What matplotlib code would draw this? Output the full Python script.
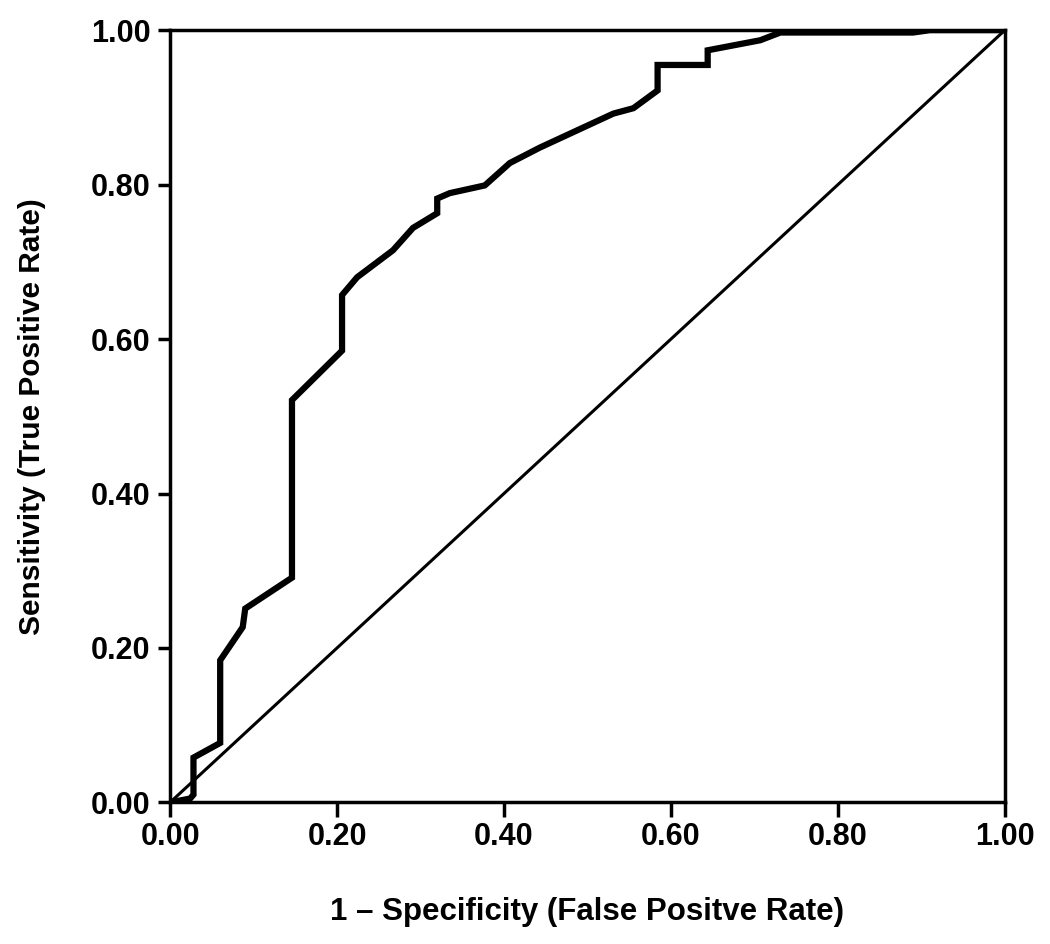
import matplotlib
matplotlib.use("Agg")
import matplotlib.pyplot as plt

# ROC curve points
fpr = [0.0, 0.024, 0.028, 0.028, 0.060, 0.060, 0.087, 0.090, 0.146, 0.146,
       0.206, 0.206, 0.224, 0.267, 0.291, 0.320, 0.320, 0.335, 0.377, 0.407,
       0.443, 0.531, 0.555, 0.584, 0.584, 0.644, 0.644, 0.707, 0.731, 0.890,
       0.910, 1.0]
tpr = [0.0, 0.005, 0.010, 0.058, 0.077, 0.184, 0.227, 0.251, 0.291, 0.521,
       0.585, 0.657, 0.680, 0.715, 0.744, 0.763, 0.782, 0.789, 0.799, 0.828,
       0.848, 0.892, 0.899, 0.922, 0.955, 0.955, 0.974, 0.987, 0.997, 0.997,
       1.0, 1.0]
ticks = [0.0, 0.2, 0.4, 0.6, 0.8, 1.0]
tick_labels = ["0.00", "0.20", "0.40", "0.60", "0.80", "1.00"]

plt.rcParams['font.family'] = ['Liberation Sans', 'DejaVu Sans']

fig = plt.figure(figsize=(10.5, 9.44), dpi=100)
ax = fig.add_axes([0.162, 0.150, 0.795, 0.818])

# reference diagonal
ax.plot([0, 1], [0, 1], color="black", lw=2.2, solid_capstyle="butt")
ax.plot(fpr, tpr, color="black", lw=4.5, solid_joinstyle="miter")

ax.set_xlim(0, 1)
ax.set_ylim(0, 1)
for s in ax.spines.values():
    s.set_linewidth(2.5)

ax.set_xticks(ticks)
ax.set_xticklabels(tick_labels, fontsize=22, fontweight="bold")
ax.set_yticks(ticks)
ax.set_yticklabels(tick_labels, fontsize=22, fontweight="bold")
ax.tick_params(axis="x", length=11, width=2.5, pad=3)
ax.tick_params(axis="y", length=9, width=2.5, pad=5)

ax.set_xlabel("1 \u2013 Specificity (False Positve Rate)", fontsize=22.5,
              fontweight="bold")
ax.set_ylabel("Sensitivity (True Positive Rate)", fontsize=21.5,
              fontweight="bold")
ax.xaxis.set_label_coords(0.5, -0.122)
ax.yaxis.set_label_coords(-0.149, 0.5)

fig.savefig("out.png", dpi=100)
